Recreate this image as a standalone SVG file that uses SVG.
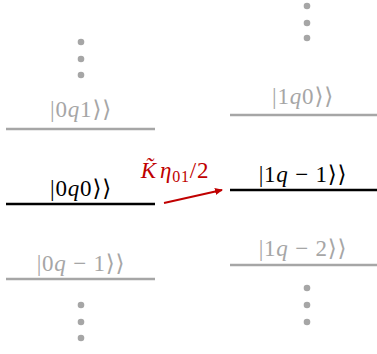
<svg xmlns="http://www.w3.org/2000/svg" width="377" height="354" viewBox="0 0 377 354">
<defs>
<marker id="ah" markerWidth="8" markerHeight="8" refX="7" refY="4" orient="auto" markerUnits="userSpaceOnUse">
<path d="M0,0.5 L8,4 L0,7.5 Z" fill="#c00000"/>
</marker>
<style>
.lbl{font-family:"Liberation Serif","DejaVu Serif",serif;font-size:23px;text-anchor:middle;letter-spacing:0.8px}
.g{fill:#a6a6a6}
.b{fill:#000}
.i{font-style:italic}
.lg{stroke:#a6a6a6;stroke-width:2.4}
.lb{stroke:#000;stroke-width:2.4}
.dot{fill:#a6a6a6}
</style>
</defs>
<g id="dots-left-top"><circle class="dot" cx="81" cy="42" r="3.3"/><circle class="dot" cx="81" cy="59" r="3.3"/><circle class="dot" cx="81" cy="75" r="3.3"/></g>
<g id="dots-left-bottom"><circle class="dot" cx="81" cy="305" r="3.3"/><circle class="dot" cx="81" cy="322" r="3.3"/><circle class="dot" cx="81" cy="338" r="3.3"/></g>
<g id="dots-right-top"><circle class="dot" cx="307" cy="6" r="3.3"/><circle class="dot" cx="307" cy="23" r="3.3"/><circle class="dot" cx="307" cy="38" r="3.3"/></g>
<g id="dots-right-bottom"><circle class="dot" cx="307" cy="288" r="3.3"/><circle class="dot" cx="307" cy="305" r="3.3"/><circle class="dot" cx="307" cy="322" r="3.3"/></g>
<g id="n0q1"><line class="lg" x1="6" y1="129" x2="155" y2="129"/><text class="lbl g" x="81" y="117">|0<tspan class="i">q</tspan>1⟩⟩</text></g>
<g id="n0q0"><line class="lb" x1="6" y1="204" x2="155" y2="204"/><text class="lbl b" x="81" y="196">|0<tspan class="i">q</tspan>0⟩⟩</text></g>
<g id="n0qm1"><line class="lg" x1="6" y1="279" x2="155" y2="279"/><text class="lbl g" x="81" y="271">|0<tspan class="i">q</tspan> − 1⟩⟩</text></g>
<g id="n1q0"><line class="lg" x1="230" y1="115" x2="377" y2="115"/><text class="lbl g" x="303" y="104">|1<tspan class="i">q</tspan>0⟩⟩</text></g>
<g id="n1qm1"><line class="lb" x1="230" y1="190" x2="377" y2="190"/><text class="lbl b" x="303" y="182">|1<tspan class="i">q</tspan> − 1⟩⟩</text></g>
<g id="n1qm2"><line class="lg" x1="230" y1="265" x2="377" y2="265"/><text class="lbl g" x="303" y="256">|1<tspan class="i">q</tspan> − 2⟩⟩</text></g>
<g id="connectors">
<line x1="164" y1="203" x2="222" y2="190" stroke="#c00000" stroke-width="2" marker-end="url(#ah)"/>
<text class="lbl" x="175" y="178" fill="#c00000"><tspan class="i">K̃</tspan><tspan class="i" dx="3">η</tspan><tspan font-size="16" dy="4">01</tspan><tspan dy="-4">/2</tspan></text>
</g>
</svg>
